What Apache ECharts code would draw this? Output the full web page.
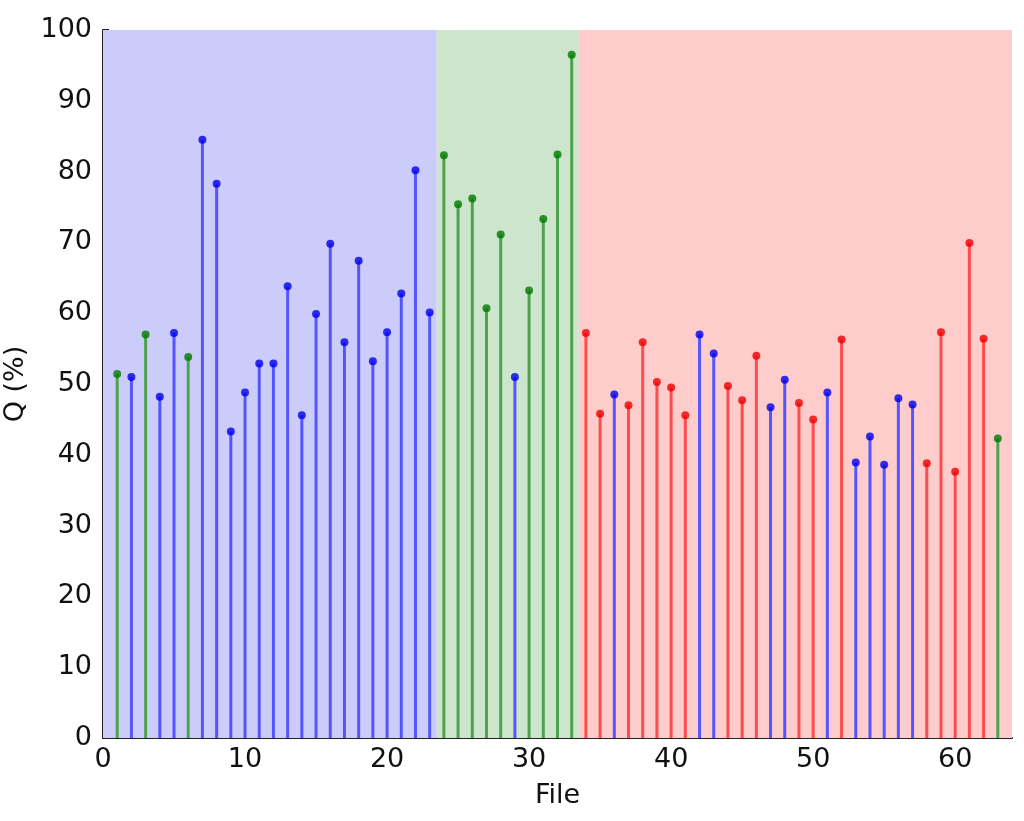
<!DOCTYPE html>
<html>
<head>
<meta charset="utf-8">
<script src="https://cdn.jsdelivr.net/npm/echarts@6/dist/echarts.min.js"></script>
<style>html,body{margin:0;padding:0;background:#fff;}#c{width:1024px;height:821px;}</style>
</head>
<body>
<div id="c"></div>
<script>
const files = [1,2,3,4,5,6,7,8,9,10,11,12,13,14,15,16,17,18,19,20,21,22,23,24,25,26,27,28,29,30,31,32,33,34,35,36,37,38,39,40,41,42,43,44,45,46,47,48,49,50,51,52,53,54,55,56,57,58,59,60,61,62,63];
const qValues = [51.4,51,57,48.2,57.2,53.8,84.5,78.3,43.3,48.8,52.9,52.9,63.8,45.6,59.9,69.8,55.9,67.4,53.2,57.3,62.8,80.2,60.1,82.3,75.4,76.2,60.7,71.1,51,63.2,73.3,82.4,96.5,57.2,45.8,48.5,47,55.9,50.3,49.5,45.6,57,54.3,49.7,47.7,54,46.7,50.6,47.3,45,48.8,56.3,38.9,42.6,38.6,48,47.1,38.8,57.3,37.6,69.9,56.4,42.3];
const classes = ['g','b','g','b','b','g','b','b','b','b','b','b','b','b','b','b','b','b','b','b','b','b','b','g','g','g','g','g','b','g','g','g','g','r','r','b','r','r','r','r','r','b','b','r','r','r','b','b','r','r','b','r','b','b','b','b','b','r','r','r','r','r','g'];
const regionBounds = [[0,23.5],[23.5,33.5],[33.5,64]];
const regionClass = ['b','g','r'];

const stemColor = {b:'#5555ff', g:'#4ea24e', r:'#ff4d4d'};
const markColor = {b:'#0000ee', g:'#007a00', r:'#ee0000'};
const bgColor = {b:'#ccccfa', g:'#cce5cc', r:'#ffcccc'};

const FONT = 'DejaVu Sans';
const chart = echarts.init(document.getElementById('c'));
chart.setOption({
  animation:false,
  backgroundColor:'#fff',
  grid:{left:103, right:12, top:30, bottom:83, containLabel:false, outerBoundsMode:'none'},
  xAxis:{type:'value', min:0, max:64, interval:10,
    axisLine:{show:true, lineStyle:{color:'#222', width:2}},
    axisTick:{show:false},
    splitLine:{show:false},
    axisLabel:{showMaxLabel:false, fontFamily:FONT, fontSize:27, color:'#111', margin:8},
    name:'File', nameLocation:'middle', nameGap:44,
    nameTextStyle:{fontFamily:FONT, fontSize:27, color:'#111'}},
  yAxis:{type:'value', min:0, max:100, interval:10,
    axisLine:{show:true, lineStyle:{color:'#222', width:2}},
    axisTick:{show:true, inside:true, length:6, lineStyle:{color:'#222', width:2}},
    splitLine:{show:false},
    axisLabel:{fontFamily:FONT, fontSize:27, color:'#111', margin:11},
    name:'Q (%)', nameLocation:'middle', nameGap:53,
    nameTextStyle:{fontFamily:FONT, fontSize:27, color:'#111'}},
  series:[
    {type:'bar', barWidth:3, z:2,
     data:files.map((f,i)=>({value:[f,qValues[i]], itemStyle:{color:stemColor[classes[i]]}})),
     markArea:{silent:true, z:1, data:regionBounds.map((b,i)=>[
       {xAxis:b[0], yAxis:0, itemStyle:{color:bgColor[regionClass[i]]}},
       {xAxis:b[1], yAxis:100}])}},
    {type:'scatter', symbol:'circle', symbolSize:8, z:3,
     data:files.map((f,i)=>({value:[f,qValues[i]], itemStyle:{color:markColor[classes[i]]}}))}
  ]
});
</script>
</body>
</html>
